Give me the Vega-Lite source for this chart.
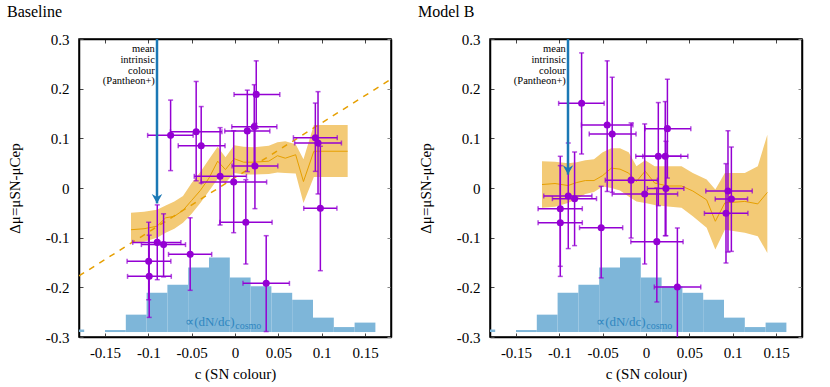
{
  "$schema": "https://vega.github.io/schema/vega-lite/v6.json",
  "padding": {"left": 6, "top": 3, "right": 4, "bottom": 2},
  "config": {
    "font": "Liberation Serif",
    "view": {"stroke": "black", "strokeWidth": 1.5, "strokeOpacity": 1},
    "text": {"font": "Liberation Serif"},
    "axis": {"grid": false, "domain": true, "domainColor": "black", "domainWidth": 1.5, "domainOpacity": 1,
      "ticks": true, "tickSize": -4, "tickColor": "#444", "tickWidth": 1, "tickOpacity": 1,
      "labelFont": "Liberation Serif", "labelFontSize": 15, "labelColor": "black",
      "titleFont": "Liberation Serif", "titleFontSize": 15, "titleFontWeight": "normal", "titleColor": "black"},
    "title": {"font": "Liberation Serif", "fontSize": 16, "fontWeight": "normal", "anchor": "start", "frame": "bounds", "offset": 12}
  },
  "datasets": {
    "hist": [
      {"lo": -0.198, "hi": -0.174, "top": -0.285},
      {"lo": -0.150, "hi": -0.126, "top": -0.286},
      {"lo": -0.126, "hi": -0.102, "top": -0.255},
      {"lo": -0.102, "hi": -0.078, "top": -0.211},
      {"lo": -0.078, "hi": -0.054, "top": -0.195},
      {"lo": -0.054, "hi": -0.030, "top": -0.160},
      {"lo": -0.030, "hi": -0.006, "top": -0.140},
      {"lo": -0.006, "hi": 0.018, "top": -0.180},
      {"lo": 0.018, "hi": 0.042, "top": -0.198},
      {"lo": 0.042, "hi": 0.066, "top": -0.211},
      {"lo": 0.066, "hi": 0.090, "top": -0.225},
      {"lo": 0.090, "hi": 0.114, "top": -0.261},
      {"lo": 0.114, "hi": 0.138, "top": -0.280},
      {"lo": 0.138, "hi": 0.162, "top": -0.271}
    ],
    "ptsA": [
      {"c": -0.0743, "clo": -0.1008, "chi": -0.0483, "d": 0.106, "dlo": 0.035, "dhi": 0.177},
      {"c": -0.0448, "clo": -0.0745, "chi": -0.0151, "d": 0.1134, "dlo": 0.0145, "dhi": 0.2145},
      {"c": -0.039, "clo": -0.0655, "chi": -0.0115, "d": 0.085, "dlo": 0.010, "dhi": 0.164},
      {"c": -0.0172, "clo": -0.047, "chi": 0.0132, "d": 0.0235, "dlo": -0.0745, "dhi": 0.1215},
      {"c": -0.0015, "clo": -0.039, "chi": 0.0365, "d": 0.012, "dlo": -0.090, "dhi": 0.1153},
      {"c": 0.0125, "clo": -0.0175, "chi": 0.0428, "d": -0.0688, "dlo": -0.153, "dhi": 0.0167},
      {"c": 0.0142, "clo": -0.0118, "chi": 0.0402, "d": 0.115, "dlo": 0.033, "dhi": 0.197},
      {"c": 0.0222, "clo": -0.0037, "chi": 0.0483, "d": 0.1234, "dlo": 0.048, "dhi": 0.208},
      {"c": 0.0245, "clo": -0.0011, "chi": 0.0517, "d": 0.1885, "dlo": 0.12, "dhi": 0.256},
      {"c": 0.023, "clo": -0.0034, "chi": 0.0494, "d": 0.0443, "dlo": -0.0416, "dhi": 0.130},
      {"c": 0.036, "clo": 0.0092, "chi": 0.0628, "d": -0.192, "dlo": -0.289, "dhi": -0.096},
      {"c": 0.0927, "clo": 0.0674, "chi": 0.118, "d": 0.1013, "dlo": 0.0335, "dhi": 0.171},
      {"c": 0.0958, "clo": 0.0688, "chi": 0.1228, "d": 0.0906, "dlo": -0.012, "dhi": 0.194},
      {"c": 0.0985, "clo": 0.0793, "chi": 0.1176, "d": -0.041, "dlo": -0.1665, "dhi": 0.084},
      {"c": -0.0897, "clo": -0.118, "chi": -0.0624, "d": -0.1095, "dlo": -0.1846, "dhi": -0.034},
      {"c": -0.0824, "clo": -0.108, "chi": -0.0571, "d": -0.114, "dlo": -0.179, "dhi": -0.052},
      {"c": -0.0517, "clo": -0.0767, "chi": -0.0269, "d": -0.1336, "dlo": -0.206, "dhi": -0.060},
      {"c": -0.0996, "clo": -0.1245, "chi": -0.074, "d": -0.1477, "dlo": -0.225, "dhi": -0.069},
      {"c": -0.099, "clo": -0.124, "chi": -0.0735, "d": -0.1779, "dlo": -0.2605, "dhi": -0.095}
    ],
    "ptsB": [
      {"c": -0.0743, "clo": -0.1008, "chi": -0.0483, "d": 0.1705, "dlo": 0.0685, "dhi": 0.272},
      {"c": -0.0448, "clo": -0.0745, "chi": -0.0151, "d": 0.1268, "dlo": -0.007, "dhi": 0.256},
      {"c": -0.039, "clo": -0.0655, "chi": -0.0115, "d": 0.1085, "dlo": -0.0087, "dhi": 0.223},
      {"c": -0.0172, "clo": -0.047, "chi": 0.0132, "d": 0.0158, "dlo": -0.1007, "dhi": 0.131},
      {"c": -0.0015, "clo": -0.039, "chi": 0.0365, "d": -0.0121, "dlo": -0.153, "dhi": 0.129},
      {"c": 0.0125, "clo": -0.0175, "chi": 0.0428, "d": -0.108, "dlo": -0.2295, "dhi": 0.0},
      {"c": 0.0142, "clo": -0.0118, "chi": 0.0402, "d": 0.0637, "dlo": -0.0356, "dhi": 0.172},
      {"c": 0.0222, "clo": -0.0037, "chi": 0.0483, "d": 0.0637, "dlo": -0.096, "dhi": 0.174},
      {"c": 0.0247, "clo": -0.0011, "chi": 0.0517, "d": 0.1195, "dlo": 0.020, "dhi": 0.219},
      {"c": 0.023, "clo": 0.0015, "chi": 0.0437, "d": -0.001, "dlo": -0.096, "dhi": 0.094},
      {"c": 0.0362, "clo": 0.0096, "chi": 0.0632, "d": -0.1993, "dlo": -0.32, "dhi": -0.0805},
      {"c": 0.0946, "clo": 0.069, "chi": 0.1226, "d": -0.006, "dlo": -0.129, "dhi": 0.1153},
      {"c": 0.0985, "clo": 0.0799, "chi": 0.1172, "d": -0.0221, "dlo": -0.1276, "dhi": 0.0825},
      {"c": 0.0923, "clo": 0.0674, "chi": 0.1176, "d": -0.051, "dlo": -0.151, "dhi": 0.049},
      {"c": -0.0897, "clo": -0.118, "chi": -0.0624, "d": -0.0161, "dlo": -0.122, "dhi": 0.0906},
      {"c": -0.0824, "clo": -0.108, "chi": -0.0571, "d": -0.0215, "dlo": -0.116, "dhi": 0.0725},
      {"c": -0.0517, "clo": -0.0767, "chi": -0.0269, "d": -0.080, "dlo": -0.181, "dhi": 0.0034},
      {"c": -0.0989, "clo": -0.1245, "chi": -0.0735, "d": -0.0417, "dlo": -0.1577, "dhi": 0.0638},
      {"c": -0.0989, "clo": -0.1245, "chi": -0.0735, "d": -0.0699, "dlo": -0.178, "dhi": 0.045}
    ],
    "bandA": [
      {"c": -0.12, "lo": -0.110, "med": -0.084, "hi": -0.050},
      {"c": -0.105, "lo": -0.108, "med": -0.082, "hi": -0.048},
      {"c": -0.09, "lo": -0.100, "med": -0.077, "hi": -0.044},
      {"c": -0.08, "lo": -0.090, "med": -0.060, "hi": -0.035},
      {"c": -0.07, "lo": -0.082, "med": -0.057, "hi": -0.027},
      {"c": -0.06, "lo": -0.070, "med": -0.045, "hi": -0.016},
      {"c": -0.05, "lo": -0.052, "med": -0.025, "hi": 0.010},
      {"c": -0.04, "lo": -0.030, "med": -0.005, "hi": 0.032},
      {"c": -0.03, "lo": -0.006, "med": 0.020, "hi": 0.058},
      {"c": -0.02, "lo": 0.018, "med": 0.054, "hi": 0.083},
      {"c": -0.011, "lo": 0.010, "med": 0.037, "hi": 0.062},
      {"c": -0.001, "lo": 0.030, "med": 0.059, "hi": 0.086},
      {"c": 0.010, "lo": 0.027, "med": 0.052, "hi": 0.083},
      {"c": 0.022, "lo": 0.027, "med": 0.052, "hi": 0.082},
      {"c": 0.039, "lo": 0.028, "med": 0.054, "hi": 0.085},
      {"c": 0.049, "lo": 0.031, "med": 0.065, "hi": 0.092},
      {"c": 0.058, "lo": 0.030, "med": 0.060, "hi": 0.094},
      {"c": 0.070, "lo": 0.029, "med": 0.067, "hi": 0.088},
      {"c": 0.079, "lo": -0.030, "med": 0.013, "hi": 0.058},
      {"c": 0.091, "lo": 0.022, "med": 0.074, "hi": 0.127},
      {"c": 0.13, "lo": 0.022, "med": 0.074, "hi": 0.127}
    ],
    "bandB": [
      {"c": -0.12, "lo": -0.040, "med": 0.007, "hi": 0.054},
      {"c": -0.105, "lo": -0.038, "med": 0.009, "hi": 0.053},
      {"c": -0.09, "lo": -0.030, "med": 0.005, "hi": 0.050},
      {"c": -0.08, "lo": -0.022, "med": 0.011, "hi": 0.052},
      {"c": -0.07, "lo": -0.012, "med": 0.015, "hi": 0.056},
      {"c": -0.06, "lo": -0.008, "med": 0.015, "hi": 0.058},
      {"c": -0.05, "lo": 0.003, "med": 0.025, "hi": 0.072},
      {"c": -0.04, "lo": 0.000, "med": 0.040, "hi": 0.080},
      {"c": -0.03, "lo": -0.005, "med": 0.038, "hi": 0.080},
      {"c": -0.02, "lo": -0.017, "med": 0.030, "hi": 0.072},
      {"c": -0.011, "lo": -0.027, "med": 0.013, "hi": 0.044},
      {"c": -0.001, "lo": -0.030, "med": 0.034, "hi": 0.056},
      {"c": 0.010, "lo": -0.034, "med": 0.010, "hi": 0.044},
      {"c": 0.025, "lo": -0.037, "med": 0.004, "hi": 0.044},
      {"c": 0.041, "lo": -0.040, "med": 0.004, "hi": 0.044},
      {"c": 0.054, "lo": -0.057, "med": -0.006, "hi": 0.030},
      {"c": 0.070, "lo": -0.080, "med": -0.024, "hi": 0.017},
      {"c": 0.080, "lo": -0.124, "med": -0.067, "hi": -0.003},
      {"c": 0.091, "lo": -0.084, "med": -0.030, "hi": 0.030},
      {"c": 0.114, "lo": -0.090, "med": -0.027, "hi": 0.030},
      {"c": 0.129, "lo": -0.097, "med": -0.032, "hi": 0.044},
      {"c": 0.14, "lo": -0.131, "med": -0.009, "hi": 0.107}
    ],
    "dash": [{"c": -0.18, "d": -0.177}, {"c": 0.18, "d": 0.219}],
    "arrowA": [{"c": -0.09, "top": 0.3, "tip": -0.031}],
    "arrowB": [{"c": -0.09, "top": 0.3, "tip": 0.027}],
    "note": [
      {"c": -0.0925, "d": 0.279, "t": "mean"},
      {"c": -0.0925, "d": 0.2575, "t": "intrinsic"},
      {"c": -0.0925, "d": 0.236, "t": "colour"},
      {"c": -0.0925, "d": 0.2145, "t": "(Pantheon+)"}
    ],
    "dndc": [{"c": -0.0005, "d": -0.277, "t": "∝(dN/dc)"}],
    "cosmo": [{"c": 0.0003, "d": -0.284, "t": "cosmo"}]
  },
  "hconcat": [
    {
      "title": {"text": "Baseline"},
      "width": 312, "height": 298,
      "view": {"stroke": "black", "strokeWidth": 1.5, "strokeOpacity": 1},
      "resolve": {"axis": {"x": "independent", "y": "independent"}},
      "layer": [
        {
          "layer": [
            {"data": {"name": "hist"}, "mark": {"type": "rect", "color": "#7eb6d9", "clip": true},
             "encoding": {
               "x": {"field": "lo", "type": "quantitative", "title": "c (SN colour)", "scale": {"domain": [-0.18, 0.18], "nice": false, "zero": false},
                 "axis": {"values": [-0.15, -0.1, -0.05, 0, 0.05, 0.1, 0.15], "labelExpr": "'' + datum.value", "labelPadding": 12, "titlePadding": 6}},
               "x2": {"field": "hi"},
               "y": {"field": "top", "type": "quantitative", "title": "Δμ=μSN-μCep", "scale": {"domain": [-0.3, 0.3], "nice": false, "zero": false},
                 "axis": {"values": [-0.3, -0.2, -0.1, 0, 0.1, 0.2, 0.3], "labelExpr": "'' + datum.value", "labelPadding": 14, "titleX": -57, "titleY": 149}},
               "y2": {"datum": -0.29}}},
            {"mark": {"type": "rule", "color": "#cfe2ef", "strokeWidth": 1}, "encoding": {"y": {"datum": -0.29}}},
            {"data": {"name": "bandA"}, "mark": {"type": "area", "color": "#f3ca76", "clip": true},
             "encoding": {"x": {"field": "c", "type": "quantitative"}, "y": {"field": "lo", "type": "quantitative"}, "y2": {"field": "hi"}}},
            {"data": {"name": "bandA"}, "mark": {"type": "line", "color": "#e69f00", "strokeWidth": 1, "clip": true},
             "encoding": {"x": {"field": "c", "type": "quantitative"}, "y": {"field": "med", "type": "quantitative"}}},
            {"data": {"name": "dash"}, "mark": {"type": "line", "color": "#e69f00", "strokeWidth": 1.5, "strokeDash": [6, 6], "clip": true},
             "encoding": {"x": {"field": "c", "type": "quantitative"}, "y": {"field": "d", "type": "quantitative"}}},
            {"mark": {"type": "rule", "color": "black", "strokeWidth": 1}, "encoding": {"y": {"datum": 0}}},
            {"data": {"name": "ptsA"}, "mark": {"type": "rule", "color": "#9400d3", "strokeWidth": 1.5, "clip": true},
             "encoding": {"x": {"field": "clo", "type": "quantitative"}, "x2": {"field": "chi"}, "y": {"field": "d", "type": "quantitative"}}},
            {"data": {"name": "ptsA"}, "mark": {"type": "rule", "color": "#9400d3", "strokeWidth": 1.5, "clip": true},
             "encoding": {"x": {"field": "c", "type": "quantitative"}, "y": {"field": "dlo", "type": "quantitative"}, "y2": {"field": "dhi"}}},
            {"data": {"name": "ptsA"}, "mark": {"type": "tick", "orient": "horizontal", "color": "#9400d3", "size": 5, "thickness": 1.5, "clip": true},
             "encoding": {"x": {"field": "c", "type": "quantitative"}, "y": {"field": "dlo", "type": "quantitative"}}},
            {"data": {"name": "ptsA"}, "mark": {"type": "tick", "orient": "horizontal", "color": "#9400d3", "size": 5, "thickness": 1.5, "clip": true},
             "encoding": {"x": {"field": "c", "type": "quantitative"}, "y": {"field": "dhi", "type": "quantitative"}}},
            {"data": {"name": "ptsA"}, "mark": {"type": "tick", "orient": "vertical", "color": "#9400d3", "size": 5, "thickness": 1.5, "clip": true},
             "encoding": {"x": {"field": "clo", "type": "quantitative"}, "y": {"field": "d", "type": "quantitative"}}},
            {"data": {"name": "ptsA"}, "mark": {"type": "tick", "orient": "vertical", "color": "#9400d3", "size": 5, "thickness": 1.5, "clip": true},
             "encoding": {"x": {"field": "chi", "type": "quantitative"}, "y": {"field": "d", "type": "quantitative"}}},
            {"data": {"name": "ptsA"}, "mark": {"type": "circle", "color": "#9400d3", "size": 50, "opacity": 1, "clip": true},
             "encoding": {"x": {"field": "c", "type": "quantitative"}, "y": {"field": "d", "type": "quantitative"}}},
            {"data": {"name": "arrowA"}, "mark": {"type": "rule", "color": "#1b78b5", "strokeWidth": 2.5},
             "encoding": {"x": {"field": "c", "type": "quantitative"}, "y": {"field": "top", "type": "quantitative"}, "y2": {"field": "tip"}}},
            {"data": {"name": "arrowA"}, "mark": {"type": "point", "shape": "M0,0L-1,-1.8L0,-1.2L1,-1.8Z", "filled": true, "color": "#1b78b5", "size": 110, "opacity": 1},
             "encoding": {"x": {"field": "c", "type": "quantitative"}, "y": {"field": "tip", "type": "quantitative"}}},
            {"data": {"name": "note"}, "mark": {"type": "text", "align": "right", "baseline": "middle", "fontSize": 10.5, "font": "Liberation Serif", "color": "black"},
             "encoding": {"x": {"field": "c", "type": "quantitative"}, "y": {"field": "d", "type": "quantitative"}, "text": {"field": "t"}}},
            {"data": {"name": "dndc"}, "mark": {"type": "text", "align": "right", "baseline": "alphabetic", "fontSize": 13, "font": "Liberation Serif", "color": "#2f86c0"},
             "encoding": {"x": {"field": "c", "type": "quantitative"}, "y": {"field": "d", "type": "quantitative"}, "text": {"field": "t"}}},
            {"data": {"name": "cosmo"}, "mark": {"type": "text", "align": "left", "baseline": "alphabetic", "fontSize": 10, "font": "Liberation Serif", "color": "#2f86c0"},
             "encoding": {"x": {"field": "c", "type": "quantitative"}, "y": {"field": "d", "type": "quantitative"}, "text": {"field": "t"}}},
            {"mark": {"type": "rect", "fill": "white", "fillOpacity": 0, "stroke": "black", "strokeWidth": 1.5},
             "encoding": {"x": {"datum": -0.18}, "x2": {"datum": 0.18}, "y": {"datum": -0.3}, "y2": {"datum": 0.3}}}
          ]
        },
        {"data": {"name": "dash"}, "mark": {"type": "point", "opacity": 0},
         "encoding": {
           "x": {"field": "c", "type": "quantitative", "axis": {"orient": "top", "labels": false, "title": null, "values": [-0.15, -0.1, -0.05, 0, 0.05, 0.1, 0.15]}},
           "y": {"field": "d", "type": "quantitative", "axis": {"orient": "right", "labels": false, "title": null, "values": [-0.3, -0.2, -0.1, 0, 0.1, 0.2, 0.3], "tickColor": "#888"}}}}
      ]
    },
    {
      "title": {"text": "Model B"},
      "width": 312, "height": 298,
      "view": {"stroke": "black", "strokeWidth": 1.5, "strokeOpacity": 1},
      "resolve": {"axis": {"x": "independent", "y": "independent"}},
      "layer": [
        {
          "layer": [
            {"data": {"name": "hist"}, "mark": {"type": "rect", "color": "#7eb6d9", "clip": true},
             "encoding": {
               "x": {"field": "lo", "type": "quantitative", "title": "c (SN colour)", "scale": {"domain": [-0.18, 0.18], "nice": false, "zero": false},
                 "axis": {"values": [-0.15, -0.1, -0.05, 0, 0.05, 0.1, 0.15], "labelExpr": "'' + datum.value", "labelPadding": 12, "titlePadding": 6}},
               "x2": {"field": "hi"},
               "y": {"field": "top", "type": "quantitative", "title": "Δμ=μSN-μCep", "scale": {"domain": [-0.3, 0.3], "nice": false, "zero": false},
                 "axis": {"values": [-0.3, -0.2, -0.1, 0, 0.1, 0.2, 0.3], "labelExpr": "'' + datum.value", "labelPadding": 14, "titleX": -57, "titleY": 149}},
               "y2": {"datum": -0.29}}},
            {"mark": {"type": "rule", "color": "#cfe2ef", "strokeWidth": 1}, "encoding": {"y": {"datum": -0.29}}},
            {"data": {"name": "bandB"}, "mark": {"type": "area", "color": "#f3ca76", "clip": true},
             "encoding": {"x": {"field": "c", "type": "quantitative"}, "y": {"field": "lo", "type": "quantitative"}, "y2": {"field": "hi"}}},
            {"data": {"name": "bandB"}, "mark": {"type": "line", "color": "#e69f00", "strokeWidth": 1, "clip": true},
             "encoding": {"x": {"field": "c", "type": "quantitative"}, "y": {"field": "med", "type": "quantitative"}}},
            {"mark": {"type": "rule", "color": "black", "strokeWidth": 1}, "encoding": {"y": {"datum": 0}}},
            {"data": {"name": "ptsB"}, "mark": {"type": "rule", "color": "#9400d3", "strokeWidth": 1.5, "clip": true},
             "encoding": {"x": {"field": "clo", "type": "quantitative"}, "x2": {"field": "chi"}, "y": {"field": "d", "type": "quantitative"}}},
            {"data": {"name": "ptsB"}, "mark": {"type": "rule", "color": "#9400d3", "strokeWidth": 1.5, "clip": true},
             "encoding": {"x": {"field": "c", "type": "quantitative"}, "y": {"field": "dlo", "type": "quantitative"}, "y2": {"field": "dhi"}}},
            {"data": {"name": "ptsB"}, "mark": {"type": "tick", "orient": "horizontal", "color": "#9400d3", "size": 5, "thickness": 1.5, "clip": true},
             "encoding": {"x": {"field": "c", "type": "quantitative"}, "y": {"field": "dlo", "type": "quantitative"}}},
            {"data": {"name": "ptsB"}, "mark": {"type": "tick", "orient": "horizontal", "color": "#9400d3", "size": 5, "thickness": 1.5, "clip": true},
             "encoding": {"x": {"field": "c", "type": "quantitative"}, "y": {"field": "dhi", "type": "quantitative"}}},
            {"data": {"name": "ptsB"}, "mark": {"type": "tick", "orient": "vertical", "color": "#9400d3", "size": 5, "thickness": 1.5, "clip": true},
             "encoding": {"x": {"field": "clo", "type": "quantitative"}, "y": {"field": "d", "type": "quantitative"}}},
            {"data": {"name": "ptsB"}, "mark": {"type": "tick", "orient": "vertical", "color": "#9400d3", "size": 5, "thickness": 1.5, "clip": true},
             "encoding": {"x": {"field": "chi", "type": "quantitative"}, "y": {"field": "d", "type": "quantitative"}}},
            {"data": {"name": "ptsB"}, "mark": {"type": "circle", "color": "#9400d3", "size": 50, "opacity": 1, "clip": true},
             "encoding": {"x": {"field": "c", "type": "quantitative"}, "y": {"field": "d", "type": "quantitative"}}},
            {"data": {"name": "arrowB"}, "mark": {"type": "rule", "color": "#1b78b5", "strokeWidth": 2.5},
             "encoding": {"x": {"field": "c", "type": "quantitative"}, "y": {"field": "top", "type": "quantitative"}, "y2": {"field": "tip"}}},
            {"data": {"name": "arrowB"}, "mark": {"type": "point", "shape": "M0,0L-1,-1.8L0,-1.2L1,-1.8Z", "filled": true, "color": "#1b78b5", "size": 110, "opacity": 1},
             "encoding": {"x": {"field": "c", "type": "quantitative"}, "y": {"field": "tip", "type": "quantitative"}}},
            {"data": {"name": "note"}, "mark": {"type": "text", "align": "right", "baseline": "middle", "fontSize": 10.5, "font": "Liberation Serif", "color": "black"},
             "encoding": {"x": {"field": "c", "type": "quantitative"}, "y": {"field": "d", "type": "quantitative"}, "text": {"field": "t"}}},
            {"data": {"name": "dndc"}, "mark": {"type": "text", "align": "right", "baseline": "alphabetic", "fontSize": 13, "font": "Liberation Serif", "color": "#2f86c0"},
             "encoding": {"x": {"field": "c", "type": "quantitative"}, "y": {"field": "d", "type": "quantitative"}, "text": {"field": "t"}}},
            {"data": {"name": "cosmo"}, "mark": {"type": "text", "align": "left", "baseline": "alphabetic", "fontSize": 10, "font": "Liberation Serif", "color": "#2f86c0"},
             "encoding": {"x": {"field": "c", "type": "quantitative"}, "y": {"field": "d", "type": "quantitative"}, "text": {"field": "t"}}},
            {"mark": {"type": "rect", "fill": "white", "fillOpacity": 0, "stroke": "black", "strokeWidth": 1.5},
             "encoding": {"x": {"datum": -0.18}, "x2": {"datum": 0.18}, "y": {"datum": -0.3}, "y2": {"datum": 0.3}}}
          ]
        },
        {"data": {"name": "dash"}, "mark": {"type": "point", "opacity": 0},
         "encoding": {
           "x": {"field": "c", "type": "quantitative", "axis": {"orient": "top", "labels": false, "title": null, "values": [-0.15, -0.1, -0.05, 0, 0.05, 0.1, 0.15]}},
           "y": {"field": "d", "type": "quantitative", "axis": {"orient": "right", "labels": false, "title": null, "values": [-0.3, -0.2, -0.1, 0, 0.1, 0.2, 0.3], "tickColor": "#888"}}}}
      ]
    }
  ],
  "spacing": 22
}
